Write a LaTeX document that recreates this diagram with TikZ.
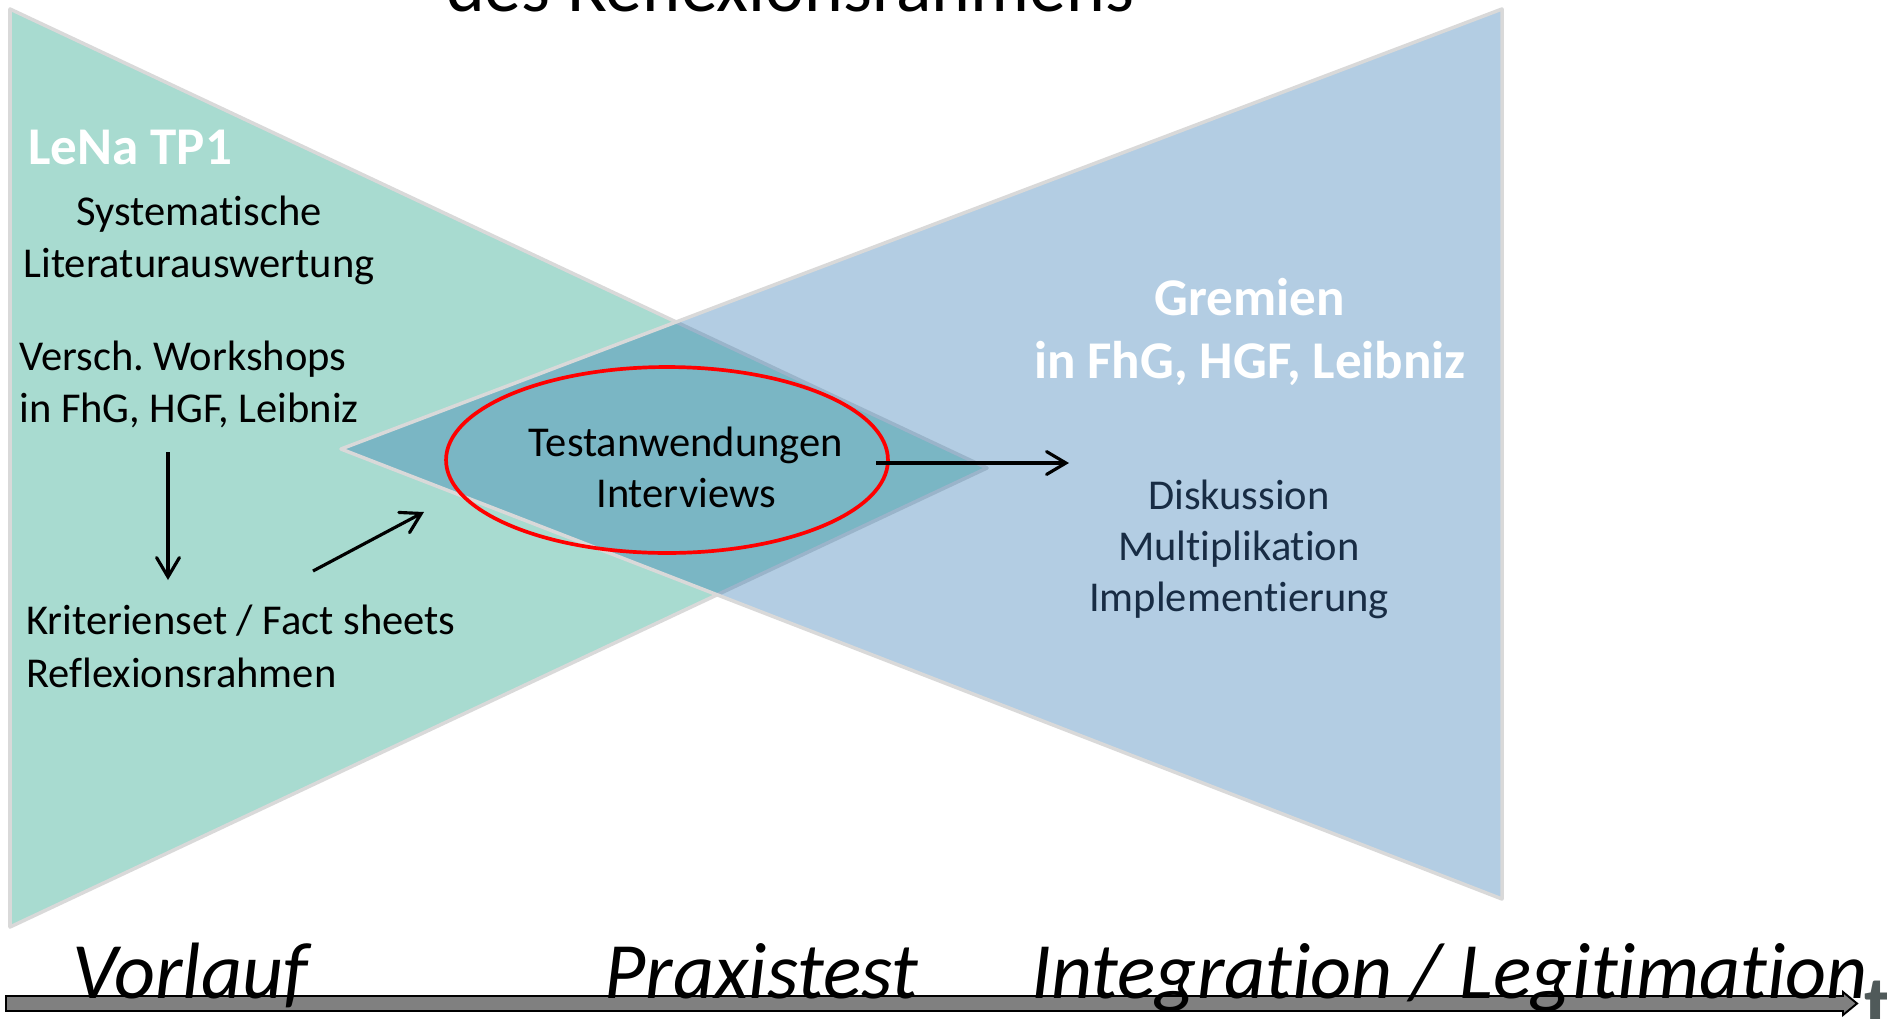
\documentclass[tikz,border=0pt]{standalone}
\usepackage{fontspec}
\setmainfont{Carlito}[Ligatures={NoCommon,NoContextual}]
\frenchspacing
\usetikzlibrary{arrows.meta,shapes.geometric}
\definecolor{grfill}{RGB}{168,219,208}
\definecolor{blbase}{RGB}{41,116,176}
\definecolor{edgegray}{RGB}{217,217,217}
\definecolor{navy}{RGB}{24,44,68}
\definecolor{tgray}{RGB}{80,90,90}
\definecolor{barfill}{RGB}{128,128,128}
\begin{document}
\begin{tikzpicture}[x=0.02cm,y=-0.02cm,
  body/.style={font=\fontsize{24.2pt}{29pt}\selectfont, inner sep=0pt, text=black},
  headtxt/.style={font=\fontsize{30.2pt}{36pt}\selectfont\bfseries, inner sep=0pt, text=white},
  phase/.style={font=\fontsize{45.5pt}{54pt}\selectfont\itshape, inner sep=0pt, text=black},
  tri/.style={draw=edgegray, line width=2pt, line join=round},
  flow/.style={line width=1.8pt, -{Straight Barb[length=11pt,width=13pt,line cap=round]}},
]
\useasboundingbox (0,0) rectangle (1887,1018);
% title (cut off at the top)
\node[font=\fontsize{42pt}{50pt}\selectfont, anchor=base, inner sep=0pt] (title) at (790,11) {des Reflexionsrahmens};
% green triangle
\coordinate (gA) at (10,9);
\coordinate (gB) at (10,927);
\coordinate (gC) at (987,468);
\fill[grfill] (gA) -- (gC) -- (gB) -- cycle;
\draw[tri] (gA) -- (gC) -- (gB) -- cycle;
% blue triangle
\coordinate (bA) at (1502,9);
\coordinate (bB) at (1502,899);
\coordinate (bC) at (341,449);
\fill[blbase, fill opacity=0.355] (bA) -- (bC) -- (bB) -- cycle;
\draw[tri] (bA) -- (bC) -- (bB) -- cycle;
% left texts
\node[headtxt, anchor=base west] (lena) at (28,164) {LeNa TP1};
\node[body, anchor=base] (sys1) at (199,225) {Systematische};
\node[body, anchor=base] (sys2) at (199,277) {Literaturauswertung};
\node[body, anchor=base west] (ws1) at (19,370) {Versch. Workshops};
\node[body, anchor=base west] (ws2) at (19,422) {in FhG, HGF, Leibniz};
\node[body, anchor=base west] (kr1) at (26,634) {Kriterienset / Fact sheets};
\node[body, anchor=base west] (kr2) at (26,687) {Reflexionsrahmen};
% right texts
\node[headtxt, anchor=base] (gr1) at (1250,315) {Gremien};
\node[headtxt, anchor=base] (gr2) at (1250,378) {in FhG, HGF, Leibniz};
\node[body, text=navy, anchor=base] (d1) at (1239,509) {Diskussion};
\node[body, text=navy, anchor=base] (d2) at (1239,560) {Multiplikation};
\node[body, text=navy, anchor=base] (d3) at (1239,611) {Implementierung};
% ellipse and its text
\node[ellipse, draw=red, line width=2.1pt, minimum width=8.84cm, minimum height=3.72cm, inner sep=0pt] (ell) at (667,460) {};
\node[body, anchor=base] (t1) at (686,456) {Testanwendungen};
\node[body, anchor=base] (t2) at (686,507) {Interviews};
% arrows
\coordinate (dnS) at (168,452);
\coordinate (dnE) at (168,580);
\coordinate (dgS) at (313,571);
\coordinate (dgE) at (424,512);
\coordinate (hzS) at (876,463);
\coordinate (hzE) at (1069,463);
\draw[flow] (dnS) -- (dnE);
\draw[flow] (dgS) -- (dgE);
\draw[flow] (hzS) -- (hzE);
% time axis
\draw[line width=1.1pt, fill=barfill, line join=miter] (6,996) -- (1843,996) -- (1843,992) -- (1857,1003.5) -- (1843,1015) -- (1843,1011) -- (6,1011) -- cycle;
\node[phase, anchor=base west] (vor) at (72,998) {Vorlauf};
\node[phase, anchor=base west] (pra) at (604,998) {Praxistest};
\node[phase, anchor=base west] (integ) at (1031,998) {Integration / Legitimation};
\node[font=\fontsize{45.5pt}{54pt}\selectfont\bfseries, text=tgray, anchor=base west, inner sep=0pt] (tlab) at (1864,1031) {t};
\end{tikzpicture}
\end{document}
